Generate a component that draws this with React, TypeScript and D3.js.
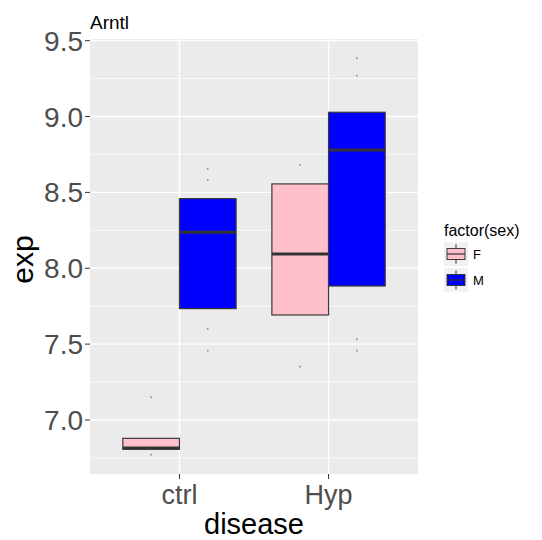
import * as d3 from "d3";
import { useEffect, useRef } from "react";

// data
const diseases = ["ctrl", "Hyp"];
const sexes = ["F", "M"];
const sexFill = ["#FFC0CB", "#0000FF"];

const boxDisease = ["ctrl", "ctrl", "Hyp", "Hyp"];
const boxSex = ["F", "M", "F", "M"];
const boxLower = [6.807, 7.734, 7.692, 7.883];
const boxMiddle = [6.815, 8.237, 8.094, 8.78];
const boxUpper = [6.879, 8.459, 8.556, 9.028];

const pointDisease = ["ctrl", "ctrl", "ctrl", "ctrl", "ctrl", "ctrl", "Hyp", "Hyp", "Hyp", "Hyp", "Hyp", "Hyp"];
const pointSex = ["F", "F", "M", "M", "M", "M", "F", "F", "M", "M", "M", "M"];
const pointExp = [7.15, 6.771, 8.655, 8.582, 7.6, 7.457, 8.681, 7.351, 9.384, 9.27, 7.532, 7.457];

const yMajor = [7.0, 7.5, 8.0, 8.5, 9.0, 9.5];
const yMinor = [6.75, 7.25, 7.75, 8.25, 8.75, 9.25];

const FONT = "'Liberation Sans', Arial, sans-serif";

function App() {
  const ref = useRef(null);

  useEffect(() => {
    const svg = d3.select(ref.current);
    svg.selectAll("*").remove();

    const panel = { left: 90, right: 418, top: 39, bottom: 474 };

    const y = d3.scaleLinear().domain([6.644, 9.511]).range([panel.bottom, panel.top]);
    const x = d3.scalePoint().domain(diseases).range([panel.left, panel.right]).padding(0.6);
    const dodgeW = x.step() * 0.76;
    const xs = d3.scaleBand().domain(sexes).range([-dodgeW / 2, dodgeW / 2]);
    const fill = d3.scaleOrdinal().domain(sexes).range(sexFill);

    // panel background
    svg.append("rect")
      .attr("x", panel.left).attr("y", panel.top)
      .attr("width", panel.right - panel.left).attr("height", panel.bottom - panel.top)
      .attr("fill", "#EBEBEB");

    // minor grid
    svg.append("g").selectAll("line").data(yMinor).join("line")
      .attr("x1", panel.left).attr("x2", panel.right)
      .attr("y1", (d) => y(d)).attr("y2", (d) => y(d))
      .attr("stroke", "#fff").attr("stroke-width", 0.7);

    // major grid
    svg.append("g").selectAll("line").data(yMajor).join("line")
      .attr("x1", panel.left).attr("x2", panel.right)
      .attr("y1", (d) => y(d)).attr("y2", (d) => y(d))
      .attr("stroke", "#fff").attr("stroke-width", 1.4);
    svg.append("g").selectAll("line").data(diseases).join("line")
      .attr("x1", (d) => x(d)).attr("x2", (d) => x(d))
      .attr("y1", panel.top).attr("y2", panel.bottom)
      .attr("stroke", "#fff").attr("stroke-width", 1.4);

    // points
    svg.append("g").selectAll("circle").data(pointExp).join("circle")
      .attr("cx", (d, i) => x(pointDisease[i]) + xs(pointSex[i]) + xs.bandwidth() / 2)
      .attr("cy", (d) => y(d))
      .attr("r", 0.9)
      .attr("fill", "#8a8a8a");

    // boxes
    const boxes = svg.append("g").selectAll("g").data(boxMiddle).join("g");
    boxes.append("rect")
      .attr("x", (d, i) => x(boxDisease[i]) + xs(boxSex[i]))
      .attr("y", (d, i) => y(boxUpper[i]))
      .attr("width", xs.bandwidth())
      .attr("height", (d, i) => y(boxLower[i]) - y(boxUpper[i]))
      .attr("fill", (d, i) => fill(boxSex[i]))
      .attr("stroke", "#3a3a3a")
      .attr("stroke-width", 1.2);
    boxes.append("line")
      .attr("x1", (d, i) => x(boxDisease[i]) + xs(boxSex[i]))
      .attr("x2", (d, i) => x(boxDisease[i]) + xs(boxSex[i]) + xs.bandwidth())
      .attr("y1", (d) => y(d)).attr("y2", (d) => y(d))
      .attr("stroke", "#333").attr("stroke-width", 3);

    // y axis
    const yAxis = svg.append("g");
    yAxis.selectAll("line").data(yMajor).join("line")
      .attr("x1", panel.left - 5).attr("x2", panel.left)
      .attr("y1", (d) => y(d)).attr("y2", (d) => y(d))
      .attr("stroke", "#333").attr("stroke-width", 1);
    yAxis.selectAll("text").data(yMajor).join("text")
      .attr("x", panel.left - 7).attr("y", (d) => y(d)).attr("dy", "0.36em")
      .attr("text-anchor", "end")
      .attr("font-family", FONT).attr("font-size", 28).attr("fill", "#4D4D4D")
      .text((d) => d3.format(".1f")(d));

    // x axis
    const xAxis = svg.append("g");
    xAxis.selectAll("line").data(diseases).join("line")
      .attr("x1", (d) => x(d)).attr("x2", (d) => x(d))
      .attr("y1", panel.bottom).attr("y2", panel.bottom + 5)
      .attr("stroke", "#333").attr("stroke-width", 1);
    xAxis.selectAll("text").data(diseases).join("text")
      .attr("x", (d) => x(d)).attr("y", 504)
      .attr("text-anchor", "middle")
      .attr("font-family", FONT).attr("font-size", 27).attr("fill", "#4D4D4D")
      .text((d) => d);

    // titles
    svg.append("text")
      .attr("x", (panel.left + panel.right) / 2).attr("y", 534)
      .attr("text-anchor", "middle")
      .attr("font-family", FONT).attr("font-size", 29).attr("fill", "#000")
      .text("disease");
    svg.append("text")
      .attr("transform", `translate(33,${(panel.top + panel.bottom) / 2 + 3}) rotate(-90)`)
      .attr("text-anchor", "middle")
      .attr("font-family", FONT).attr("font-size", 30).attr("fill", "#000")
      .text("exp");
    svg.append("text")
      .attr("x", panel.left).attr("y", 29)
      .attr("font-family", FONT).attr("font-size", 19).attr("fill", "#000")
      .text("Arntl");

    // legend
    const legend = svg.append("g").attr("transform", "translate(444,0)");
    legend.append("text")
      .attr("x", 0).attr("y", 236)
      .attr("font-family", FONT).attr("font-size", 16).attr("fill", "#000")
      .text("factor(sex)");
    const keySize = 24;
    const keys = legend.selectAll("g.key").data(sexes).join("g")
      .attr("class", "key")
      .attr("transform", (d, i) => `translate(0,${242 + i * (keySize + 2)})`);
    keys.append("rect")
      .attr("width", keySize).attr("height", keySize)
      .attr("fill", "#F2F2F2");
    keys.append("line")
      .attr("x1", keySize / 2).attr("x2", keySize / 2)
      .attr("y1", keySize * 0.1).attr("y2", keySize * 0.9)
      .attr("stroke", "#333").attr("stroke-width", 1);
    keys.append("rect")
      .attr("x", keySize * 0.125).attr("y", keySize * 0.27)
      .attr("width", keySize * 0.75).attr("height", keySize * 0.46)
      .attr("fill", (d) => fill(d))
      .attr("stroke", "#3a3a3a").attr("stroke-width", 1);
    keys.append("line")
      .attr("x1", keySize * 0.125).attr("x2", keySize * 0.875)
      .attr("y1", keySize / 2).attr("y2", keySize / 2)
      .attr("stroke", "#333").attr("stroke-width", 1.2);
    keys.append("text")
      .attr("x", keySize + 5).attr("y", keySize / 2).attr("dy", "0.36em")
      .attr("font-family", FONT).attr("font-size", 13).attr("fill", "#000")
      .text((d) => d);
  }, []);

  return (
    <svg
      ref={ref}
      width={542}
      height={540}
      style={{ position: "absolute", left: 0, top: 0, background: "#fff" }}
    />
  );
}

export default App;
